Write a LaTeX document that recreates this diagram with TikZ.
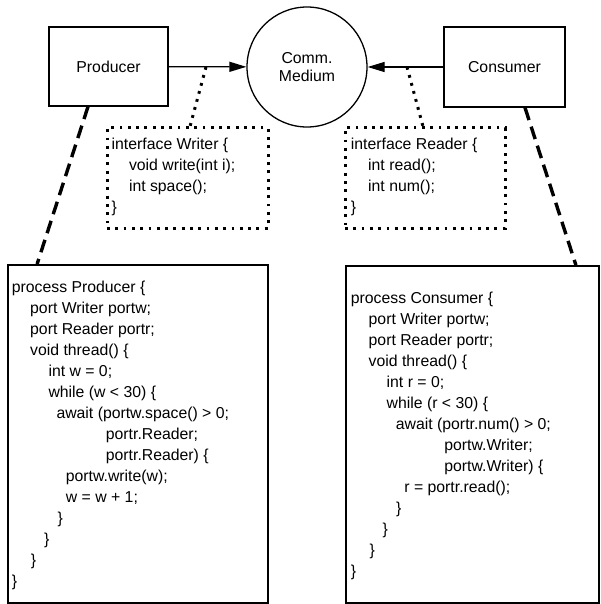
\documentclass[tikz,border=0pt]{standalone}
\usepackage{fontspec}
\setmainfont{Liberation Sans}
\usetikzlibrary{arrows.meta}
\newcommand{\ind}[1]{\hspace*{#1pt}}
\begin{document}
\begin{tikzpicture}[x=1pt,y=-1pt,
  txt/.style={font=\fontsize{15.8}{21}\selectfont},
  codetxt/.style={txt, anchor=north west, inner sep=0pt, align=left},
  compbox/.style={draw, line width=1.3pt, inner sep=0pt, txt},
  codebox/.style={draw, line width=1.8pt, inner sep=0pt},
  dotbox/.style={draw, line width=3pt, dash pattern=on 2.8pt off 5.5pt, inner sep=0pt},
  dotline/.style={line width=3pt, dash pattern=on 2.8pt off 5.5pt},
  dashline/.style={line width=3.4pt, dash pattern=on 13pt off 7pt},
  flow/.style={line width=1.3pt, -{Triangle[length=17pt,width=10pt]}}
]
\useasboundingbox (0,0) rectangle (600,604);

% components
\node[compbox, minimum width=119pt, minimum height=79pt] (prod) at (108.5,66.5) {Producer};
\node[compbox, minimum width=121pt, minimum height=80pt] (cons) at (504.5,67) {Consumer};
\node[draw, circle, line width=1.3pt, minimum size=120pt, inner sep=0pt, align=center,
      font=\fontsize{15.8}{18}\selectfont] (med) at (307,67) {Comm.\\Medium};

% interface boxes
\node[dotbox, minimum width=161pt, minimum height=100pt] (wbox) at (187.5,178) {};
\node[dotbox, minimum width=160pt, minimum height=100pt] (rbox) at (425,178) {};
\node[codetxt] (wtext) at (111.5,138.3) {interface Writer \{\\
\ind{17.3}void write(int i);\\
\ind{17.3}int space();\\
\}};
\node[codetxt] (rtext) at (350.7,138.3) {interface Reader \{\\
\ind{17.3}int read();\\
\ind{17.3}int num();\\
\}};

% process boxes
\node[codebox, minimum width=260pt, minimum height=338pt] (pcode) at (138,434) {};
\node[codebox, minimum width=253pt, minimum height=337pt] (ccode) at (472.5,434.5) {};
\node[codetxt] (ptext) at (11.7,281) {process Producer \{\\
\ind{18.3}port Writer portw;\\
\ind{18.3}port Reader portr;\\
\ind{18.3}void thread() \{\\
\ind{36.6}int w = 0;\\
\ind{36.6}while (w < 30) \{\\
\ind{44.6}await (portw.space() > 0;\\
\ind{94}portr.Reader;\\
\ind{94}portr.Reader) \{\\
\ind{54}portw.write(w);\\
\ind{54}w = w + 1;\\
\ind{45.6}\}\\
\ind{32.3}\}\\
\ind{19}\}\\
\}};
\node[codetxt] (ctext) at (350.7,292) {process Consumer \{\\
\ind{17.8}port Writer portw;\\
\ind{17.8}port Reader portr;\\
\ind{17.8}void thread() \{\\
\ind{35.8}int r = 0;\\
\ind{35.8}while (r < 30) \{\\
\ind{45}await (portr.num() > 0;\\
\ind{93.5}portw.Writer;\\
\ind{93.5}portw.Writer) \{\\
\ind{53.5}r = portr.read();\\
\ind{45.3}\}\\
\ind{31.8}\}\\
\ind{18.6}\}\\
\}};

% connectors
\draw[flow] (prod) -- (med);
\draw[flow] (cons) -- (med);
\coordinate (wtap) at (206,67);
\coordinate (rtap) at (407,67);
\draw[dotline] (wtap) -- ([xshift=2.5pt]wbox.north);
\draw[dotline] (rtap) -- ([xshift=-2pt]rbox.north);
\draw[dashline] ([xshift=-20.5pt]prod.south) -- ([xshift=30pt]pcode.north west);
\draw[dashline] ([xshift=20.5pt]cons.south) -- ([xshift=-24pt]ccode.north east);
\end{tikzpicture}
\end{document}
